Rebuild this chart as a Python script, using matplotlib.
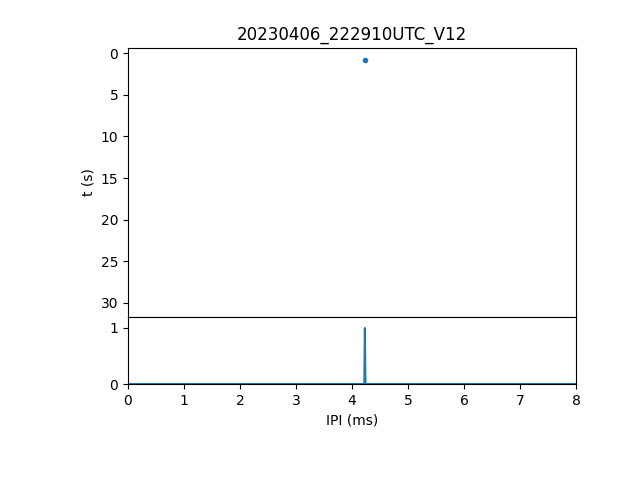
import numpy as np
import matplotlib
matplotlib.use("Agg")
import matplotlib.pyplot as plt

title = "20230406_222910UTC_V12"
ipi_ms = [4.235]
t_s = [0.8]

bin_width = 0.01
x_max = 8

fig = plt.figure(figsize=(6.4, 4.8), dpi=100)
gs = fig.add_gridspec(2, 1, height_ratios=[4, 1], hspace=0,
                      left=0.2, right=0.9, top=0.9, bottom=0.2)
ax1 = fig.add_subplot(gs[0])
ax2 = fig.add_subplot(gs[1], sharex=ax1)

ax1.plot(ipi_ms, t_s, '.', color='#1f77b4')
ax1.set_ylim(31.7, -0.65)
ax1.set_ylabel("t (s)")
ax1.set_title(title)
ax1.tick_params(axis='x', bottom=False, labelbottom=False)

edges = np.arange(0, x_max + bin_width / 2, bin_width)
counts, _ = np.histogram(ipi_ms, bins=edges)
ax2.plot(edges[:-1], counts, color='#1f77b4')
ax2.set_ylim(0, 1.2)
ax2.set_xlim(0, x_max)
ax2.set_yticks([0, 1])
ax2.set_xlabel("IPI (ms)")

fig.savefig("out.png", dpi=100)
